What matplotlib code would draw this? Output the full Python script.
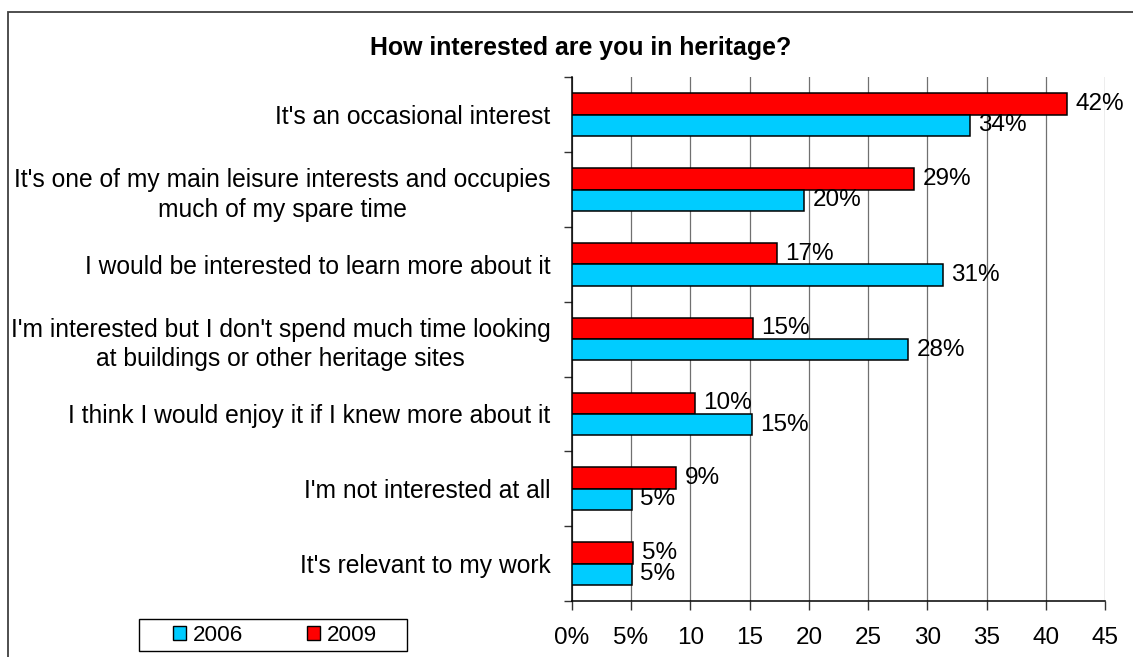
import matplotlib
matplotlib.use("Agg")
import matplotlib.pyplot as plt
from matplotlib.patches import Rectangle, Patch
import numpy as np

# Survey answers, top to bottom
categories = [
    "It's an occasional interest",
    "It's one of my main leisure interests and occupies\nmuch of my spare time",
    "I would be interested to learn more about it",
    "I'm interested but I don't spend much time looking\nat buildings or other heritage sites",
    "I think I would enjoy it if I knew more about it",
    "I'm not interested at all",
    "It's relevant to my work",
]
share_2009 = [41.8, 28.9, 17.3, 15.3, 10.4, 8.8, 5.2]
share_2006 = [33.6, 19.6, 31.3, 28.4, 15.2, 5.05, 5.05]
x_ticks = [0, 5, 10, 15, 20, 25, 30, 35, 40, 45]
x_tick_labels = ["0%", "5%", "10", "15", "20", "25", "30", "35", "40", "45"]

RED = "#FF0000"
BLUE = "#00CCFF"
FONT = ["Liberation Sans", "DejaVu Sans"]

W, H = 1133, 657
plt.rcParams["font.family"] = FONT
fig = plt.figure(figsize=(W / 100, H / 100), dpi=100)
ax = fig.add_axes([571.7 / W, 1 - 601 / H, (1105.3 - 571.7) / W, (601 - 77.3) / H])

y = np.arange(len(categories))
bar_h = 0.285

red_bars = ax.barh(y - bar_h / 2, share_2009, height=bar_h, color=RED,
                   edgecolor="black", linewidth=1.1, zorder=3)
blue_bars = ax.barh(y + bar_h / 2, share_2006, height=bar_h, color=BLUE,
                    edgecolor="black", linewidth=1.1, zorder=3)

for bars, vals in ((red_bars, share_2009), (blue_bars, share_2006)):
    for rect, v in zip(bars, vals):
        ax.annotate(f"{v:.0f}%", xy=(v, rect.get_y() + rect.get_height() / 2),
                    xytext=(6, 0), textcoords="offset points",
                    ha="left", va="center", fontsize=17.5, color="black",
                    zorder=4)

ax.set_xlim(0, 45)
ax.set_ylim(len(categories) - 0.5, -0.5)

# x axis
ax.set_xticks(x_ticks)
ax.set_xticklabels(x_tick_labels, fontsize=17.5)
ax.tick_params(axis="x", direction="out", length=6.5, width=1, color="#333333", pad=12.5)
ax.grid(axis="x", color="#707070", linewidth=0.9, zorder=0)

# y axis: boundary ticks, labels at category centres
ax.set_yticks(np.arange(len(categories) + 1) - 0.5)
ax.set_yticklabels([])
ax.tick_params(axis="y", which="major", direction="out", length=6, width=1, color="#333333")
ax.set_yticks(y, minor=True)
ax.set_yticklabels(categories, minor=True, fontsize=17.7)
ax.tick_params(axis="y", which="minor", length=0, pad=15.4)
for lab in ax.get_yticklabels(minor=True):
    lab.set_multialignment("center")
    lab.set_linespacing(1.3)

for side in ("top", "right"):
    ax.spines[side].set_visible(False)
for side in ("left", "bottom"):
    ax.spines[side].set_color("black")
    ax.spines[side].set_linewidth(1.1)

fig.text(581 / W, 1 - 48 / H, "How interested are you in heritage?",
         ha="center", va="center", fontsize=17.9, fontweight="bold")

# outer chart border
fig.patches.append(Rectangle((8.3 / W, -0.2), 1.5, 1.2 - 11.7 / H,
                             transform=fig.transFigure, fill=False,
                             edgecolor="#404040", linewidth=1.3))

# legend
handles = [Patch(facecolor=BLUE, edgecolor="black", linewidth=1.0),
           Patch(facecolor=RED, edgecolor="black", linewidth=1.0)]
fig.legend(handles, ["2006", "2009"], ncol=2, frameon=False, fontsize=16.2,
           loc="center left", bbox_to_anchor=(172.7 / W, 1 - 635.5 / H),
           borderpad=0, borderaxespad=0, handlelength=0.58, handleheight=0.58,
           handletextpad=0.31, columnspacing=2.85)
fig.patches.append(Rectangle((139 / W, 1 - 651 / H), (407.3 - 139) / W, 32 / H,
                             transform=fig.transFigure, fill=False,
                             edgecolor="black", linewidth=1.0))

fig.savefig("out.png", dpi=100)
